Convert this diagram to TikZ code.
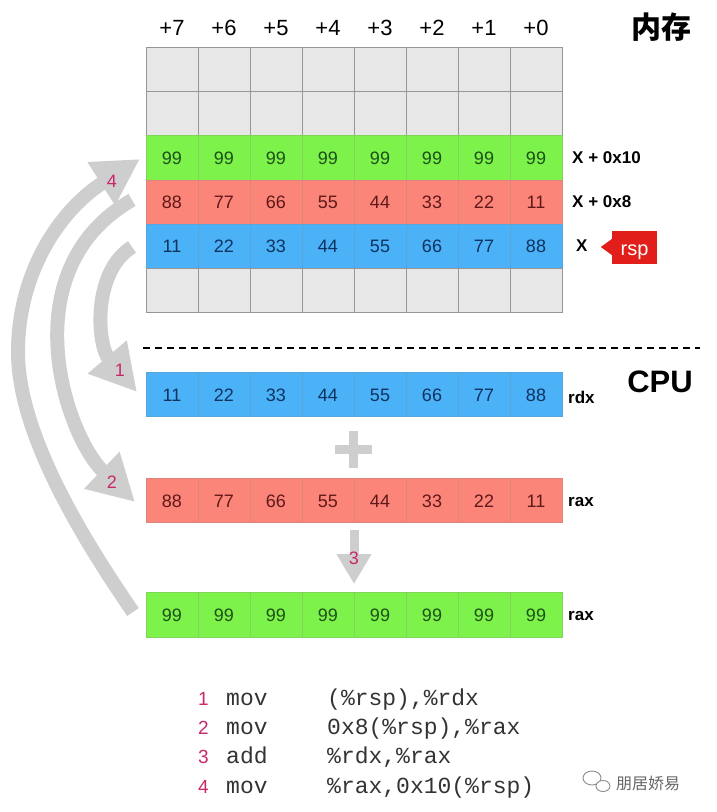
\documentclass[tikz,border=0pt]{standalone}
\usepackage{fontspec}
\setmainfont{Liberation Sans}
\setmonofont{Liberation Mono}
\newfontfamily\cjk{Noto Sans CJK SC}
\usetikzlibrary{arrows.meta}
\definecolor{cellgray}{RGB}{231,231,231}
\definecolor{gridgray}{RGB}{150,150,150}
\definecolor{cgreen}{RGB}{125,242,75}
\definecolor{cred}{RGB}{252,133,122}
\definecolor{cblue}{RGB}{75,178,248}
\definecolor{tgreen}{RGB}{30,80,25}
\definecolor{tred}{RGB}{95,25,25}
\definecolor{tblue}{RGB}{15,50,95}
\definecolor{agray}{RGB}{206,206,206}
\definecolor{lblpink}{RGB}{200,40,105}
\definecolor{rspred}{RGB}{225,30,25}
\newcommand\mkrow[6]{%
  \foreach \v [count=\c] in {#6} {%
    \node[cell, fill=#3, text=#4, draw=#5] (#1-\c) at ({172+52*(\c-1)}, #2) {\v};}}
\begin{document}
\begin{tikzpicture}[x=1pt,y=-1pt,
  cell/.style={line width=0.8pt, minimum width=52pt, minimum height=44.3pt, inner sep=0pt, text height=13pt, text depth=0pt, font=\fontsize{18}{18}\selectfont},
  collbl/.style={font=\fontsize{22}{22}\selectfont},
  rowlbl/.style={anchor=west, inner sep=0pt, font=\bfseries\fontsize{17}{17}\selectfont},
  bigarrow/.style={draw=agray, line width=14pt, -{Triangle[length=46pt,width=48pt]}},
  steplbl/.style={text=lblpink, font=\fontsize{18}{18}\selectfont, inner sep=0pt},
  codetxt/.style={anchor=base west, inner sep=0pt, font=\ttfamily\fontsize{23}{23}\selectfont, text=black!80},
  codenum/.style={anchor=base west, inner sep=0pt, font=\fontsize{19}{19}\selectfont, text=lblpink}]
\useasboundingbox (0,0) rectangle (717,812);

% column labels
\foreach \t [count=\c] in {+7,+6,+5,+4,+3,+2,+1,+0}
  \node[collbl] (col-\c) at ({172+52*(\c-1)}, 28) {\t};
\node[font=\cjk\bfseries\fontsize{30}{30}\selectfont] (mem) at (661,27) {内存};

% memory grid
\mkrow{ma}{69.2}{cellgray}{black}{gridgray}{{},{},{},{},{},{},{},{}}
\mkrow{mb}{113.5}{cellgray}{black}{gridgray}{{},{},{},{},{},{},{},{}}
\mkrow{mc}{157.8}{cgreen}{tgreen}{cgreen!75!gray}{99,99,99,99,99,99,99,99}
\mkrow{md}{202.1}{cred}{tred}{cred!75!gray}{88,77,66,55,44,33,22,11}
\mkrow{me}{246.4}{cblue}{tblue}{cblue!75!gray}{11,22,33,44,55,66,77,88}
\mkrow{mf}{290.7}{cellgray}{black}{gridgray}{{},{},{},{},{},{},{},{}}

\node[rowlbl] (lx10) at (572,158) {X + 0x10};
\node[rowlbl] (lx8) at (572,202) {X + 0x8};
\node[rowlbl] (lx) at (576,246) {X};
\node[fill=rspred, text=white, minimum width=45pt, minimum height=33pt, inner sep=0pt,
      text height=16pt, text depth=0pt, font=\fontsize{20}{20}\selectfont] (rsp) at (634.5,247) {rsp};
\fill[rspred] (rsp.west) ++(0,-8) -- ++(-11,8) -- ++(11,8) -- cycle;

% divider
\coordinate (dl) at (143,348);
\coordinate (dr) at (700,348);
\draw[line width=2.4pt, dash pattern=on 7pt off 5pt] (dl) -- (dr);
\node[font=\bfseries\fontsize{31}{31}\selectfont] (cpu) at (660,382) {CPU};

% CPU registers
\mkrow{rdx}{394.5}{cblue}{tblue}{cblue!75!gray}{11,22,33,44,55,66,77,88}
\mkrow{rax}{500.5}{cred}{tred}{cred!75!gray}{88,77,66,55,44,33,22,11}
\mkrow{res}{615}{cgreen}{tgreen}{cgreen!75!gray}{99,99,99,99,99,99,99,99}
\node[rowlbl] (lrdx) at (568,397) {rdx};
\node[rowlbl] (lrax) at (568,502) {rax};
\node[rowlbl] (lres) at (568,616) {rax};

% plus
\coordinate (pl) at (335,449.5);
\coordinate (pr) at (372,449.5);
\coordinate (pt) at (353.5,431);
\coordinate (pb) at (353.5,468);
\draw[agray, line width=9pt] (pl) -- (pr) (pt) -- (pb);

% arrow 3
\coordinate (a3s) at (354,530);
\coordinate (a3e) at (354,584);
\draw[agray, line width=9pt, -{Triangle[length=30pt,width=33pt]}] (a3s) -- (a3e);
\node[steplbl] (n3) at (354,558) {3};

% big curved arrows
\coordinate (t1) at (132,247);
\coordinate (h1) at (137,392);
\draw[bigarrow] (t1) .. controls (92,272) and (97,345) .. (h1);
\node[steplbl] (n1) at (120,370) {1};

\coordinate (t2) at (132,200);
\coordinate (h2) at (135,502);
\draw[bigarrow] (t2) .. controls (10,270) and (65,435) .. (h2);
\node[steplbl] (n2) at (112,482) {2};

\coordinate (t4) at (133,612);
\coordinate (m4) at (18,352);
\coordinate (h4) at (140,159);
\draw[bigarrow] (t4) .. controls (80,535) and (18,432) .. (m4)
  .. controls (18,272) and (60,210) .. (h4);
\node[steplbl] (n4) at (112,181) {4};

% code
\node[codenum] (c1n) at (198,705) {1};
\node[codetxt] (c1a) at (226,705) {mov};
\node[codetxt] (c1b) at (327,705) {(\%rsp),\%rdx};
\node[codenum] (c2n) at (198,734.5) {2};
\node[codetxt] (c2a) at (226,734.5) {mov};
\node[codetxt] (c2b) at (327,734.5) {0x8(\%rsp),\%rax};
\node[codenum] (c3n) at (198,763.5) {3};
\node[codetxt] (c3a) at (226,763.5) {add};
\node[codetxt] (c3b) at (327,763.5) {\%rdx,\%rax};
\node[codenum] (c4n) at (198,793) {4};
\node[codetxt] (c4a) at (226,793) {mov};
\node[codetxt] (c4b) at (327,793) {\%rax,0x10(\%rsp)};

% watermark
\draw[black!45, line width=0.9pt] (592,778) ellipse (9pt and 7pt);
\draw[black!45, line width=0.9pt, fill=white] (603,786) ellipse (7pt and 5.5pt);
\node[font=\cjk\fontsize{16}{16}\selectfont, text=black!60] (wm) at (648,783) {朋居娇易};
\end{tikzpicture}
\end{document}
